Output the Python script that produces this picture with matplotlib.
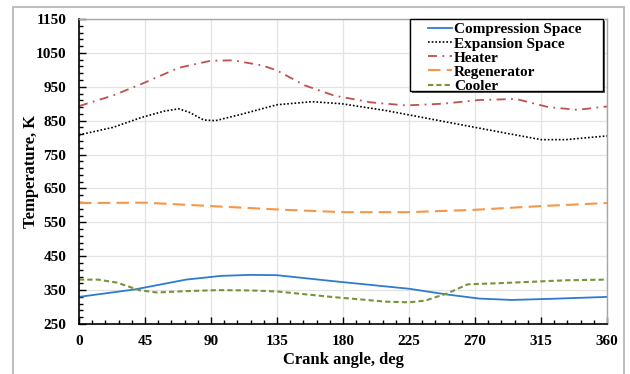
import matplotlib
matplotlib.use("Agg")
import matplotlib.pyplot as plt
from matplotlib.patches import Rectangle
from matplotlib.ticker import MultipleLocator, FixedLocator

plt.rcParams['font.family'] = ['Liberation Serif', 'DejaVu Serif']
plt.rcParams['font.weight'] = 'bold'

# Compression space
comp_x = [0, 38, 73, 97, 117, 135, 172, 225, 251, 273, 295, 320, 360]
comp_y = [330, 352, 381, 392, 395, 394, 377, 354, 337, 325, 321, 324, 330]

# Expansion space
exp_x = [0, 23, 43, 58, 68, 75, 85, 93, 110, 135, 159, 179, 209, 225, 258, 295, 315, 332, 360]
exp_y = [808, 830, 860, 878, 885, 875, 852, 850, 868, 897, 906, 900, 880, 867, 840, 810, 794, 794, 805]

# Heater
heat_x = [0, 23, 43, 68, 90, 105, 125, 135, 154, 174, 199, 223, 248, 273, 298, 320, 340, 360]
heat_y = [893, 924, 959, 1006, 1027, 1028, 1013, 998, 954, 924, 904, 895, 900, 911, 914, 890, 882, 892]

# Regenerator
reg_x = [0, 45, 90, 135, 180, 225, 270, 315, 360]
reg_y = [607, 608, 598, 588, 580, 580, 587, 598, 607]

# Cooler
cool_x = [0, 13, 26, 41, 53, 73, 95, 117, 135, 172, 209, 225, 236, 251, 265, 295, 332, 360]
cool_y = [381, 381, 372, 350, 343, 347, 350, 349, 346, 330, 316, 314, 319, 340, 367, 372, 379, 381]

y_ticks = [250, 350, 450, 550, 650, 750, 850, 950, 1050, 1150]
x_ticks = [0, 45, 90, 135, 180, 225, 270, 315, 360]

fig = plt.figure(figsize=(6.3, 3.74), dpi=100)
ax = fig.add_axes([79/630, 1-324/374, (607-79)/630, (324-19)/374])

# outer gray frame
fig.patches.append(Rectangle((13/630, -0.1), (624-13)/630, 1.1 - 7/374,
                             transform=fig.transFigure, fill=False,
                             edgecolor='#BFBFBF', linewidth=1.5))

ax.plot(comp_x, comp_y, color='#2E7BCF', lw=1.3, label='Compression Space')
ax.plot(exp_x, exp_y, color='black', lw=1.2, linestyle=(0, (1, 1.2)), label='Expansion Space')
ax.plot(heat_x, heat_y, color='#C0504D', lw=1.3, linestyle=(0, (5, 3, 1, 3)), label='Heater')
ax.plot(reg_x, reg_y, color='#F79646', lw=1.5, linestyle=(0, (6, 3)), label='Regenerator')
ax.plot(cool_x, cool_y, color='#77933C', lw=1.5, linestyle=(0, (2.5, 1.5)), label='Cooler')

ax.set_xlim(0, 360)
ax.set_ylim(250, 1150)
ax.xaxis.set_major_locator(FixedLocator(x_ticks))
ax.xaxis.set_minor_locator(MultipleLocator(9))
ax.yaxis.set_major_locator(FixedLocator(y_ticks))
ax.yaxis.set_minor_locator(FixedLocator(list(range(250, 1151, 20))))
ax.tick_params(which='both', direction='in', labelsize=11)
ax.tick_params(which='major', length=5, width=1)
ax.tick_params(which='minor', length=3, width=1)
ax.tick_params(axis='x', pad=8)
ax.tick_params(axis='y', pad=9)
ax.grid(True, which='major', color='#E3E3E3', lw=0.9)
ax.set_axisbelow(True)

for s in ['left', 'bottom']:
    ax.spines[s].set_color('black')
    ax.spines[s].set_linewidth(1.2)
for s in ['top', 'right']:
    ax.spines[s].set_color('#A6A6A6')
    ax.spines[s].set_linewidth(1.0)

for lab in ax.get_xticklabels() + ax.get_yticklabels():
    lab.set_fontweight('bold')

ax.set_xlabel('Crank angle, deg', fontsize=12, fontweight='bold', labelpad=3)
ax.set_ylabel('Temperature, K', fontsize=12, fontweight='bold', labelpad=-2)

# legend box (frame drawn separately for wider horizontal padding)
x0, x1 = (410-79)/528, (603-79)/528
y1, y0 = 1.0, 1-(91-19)/305
ax.add_patch(Rectangle((x0+0.004, y0-0.008), x1-x0, y1-y0, transform=ax.transAxes,
                       facecolor='#555555', edgecolor='none', zorder=9, clip_on=False))
ax.add_patch(Rectangle((x0, y0), x1-x0, y1-y0, transform=ax.transAxes,
                       facecolor='white', edgecolor='black', lw=1.0, zorder=10, clip_on=False))
leg = ax.legend(loc='upper left', bbox_to_anchor=(x0 + 0.028, y1 - 0.002), fontsize=11,
                frameon=False, handlelength=1.6,
                handletextpad=0.1, borderpad=0.2, labelspacing=0.03,
                borderaxespad=0.0)
leg.set_zorder(11)
for t in leg.get_texts():
    t.set_fontweight('bold')

fig.savefig('out.png', dpi=100)
